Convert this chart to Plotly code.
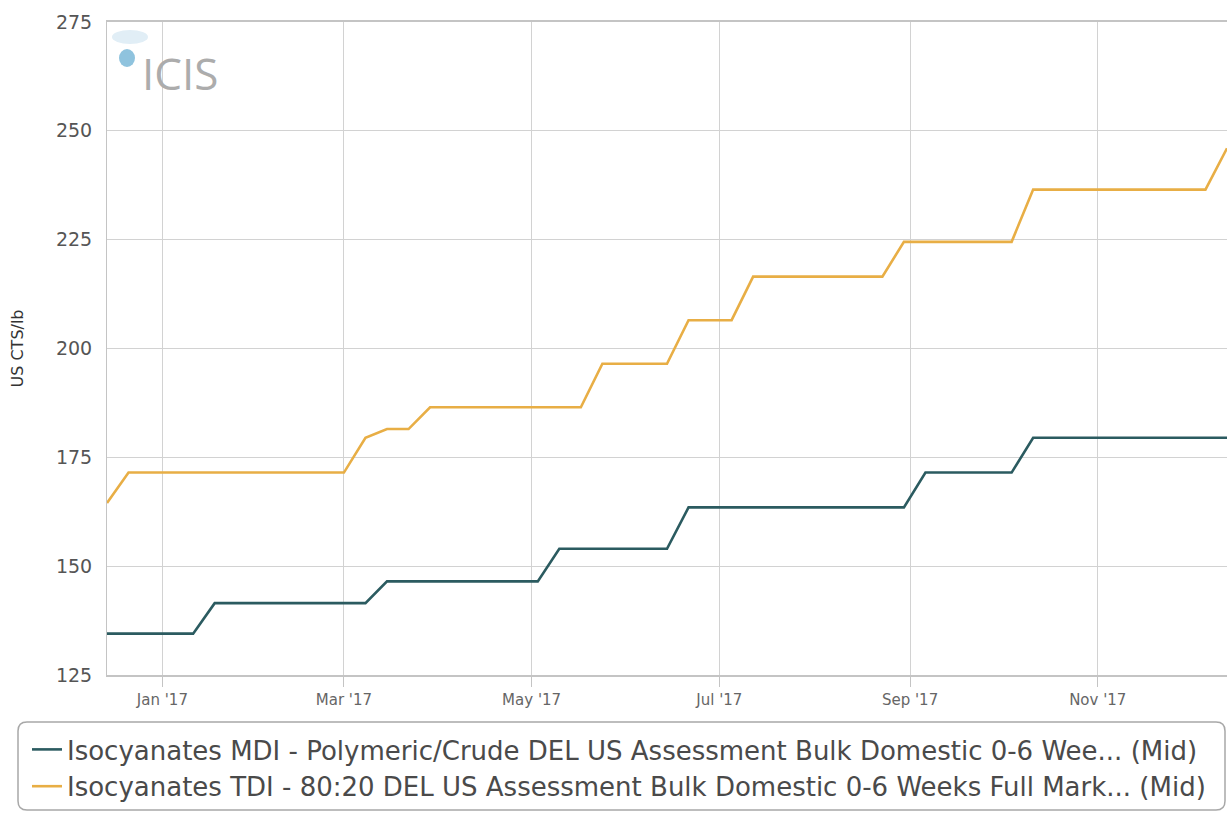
import plotly.graph_objects as go

# weekly assessment dates
dates = [
    "2016-12-14", "2016-12-21", "2016-12-28", "2017-01-04", "2017-01-11", "2017-01-18",
    "2017-01-25", "2017-02-01", "2017-02-08", "2017-02-15", "2017-02-22", "2017-03-01",
    "2017-03-08", "2017-03-15", "2017-03-22", "2017-03-29", "2017-04-05", "2017-04-12",
    "2017-04-19", "2017-04-26", "2017-05-03", "2017-05-10", "2017-05-17", "2017-05-24",
    "2017-05-31", "2017-06-07", "2017-06-14", "2017-06-21", "2017-06-28", "2017-07-05",
    "2017-07-12", "2017-07-19", "2017-07-26", "2017-08-02", "2017-08-09", "2017-08-16",
    "2017-08-23", "2017-08-30", "2017-09-06", "2017-09-13", "2017-09-20", "2017-09-27",
    "2017-10-04", "2017-10-11", "2017-10-18", "2017-10-25", "2017-11-01", "2017-11-08",
    "2017-11-15", "2017-11-22", "2017-11-29", "2017-12-06", "2017-12-13",
]

mdi = [
    134.5, 134.5, 134.5, 134.5, 134.5, 141.5, 141.5, 141.5, 141.5, 141.5, 141.5, 141.5,
    141.5, 146.5, 146.5, 146.5, 146.5, 146.5, 146.5, 146.5, 146.5, 154, 154, 154,
    154, 154, 154, 163.5, 163.5, 163.5, 163.5, 163.5, 163.5, 163.5, 163.5, 163.5,
    163.5, 163.5, 171.5, 171.5, 171.5, 171.5, 171.5, 179.5, 179.5, 179.5, 179.5, 179.5,
    179.5, 179.5, 179.5, 179.5, 179.5,
]

tdi = [
    164.5, 171.5, 171.5, 171.5, 171.5, 171.5, 171.5, 171.5, 171.5, 171.5, 171.5, 171.5,
    179.5, 181.5, 181.5, 186.5, 186.5, 186.5, 186.5, 186.5, 186.5, 186.5, 186.5, 196.5,
    196.5, 196.5, 196.5, 206.5, 206.5, 206.5, 216.5, 216.5, 216.5, 216.5, 216.5, 216.5,
    216.5, 224.5, 224.5, 224.5, 224.5, 224.5, 224.5, 236.5, 236.5, 236.5, 236.5, 236.5,
    236.5, 236.5, 236.5, 236.5, 246,
]

names = [
    "Isocyanates MDI - Polymeric/Crude DEL US Assessment Bulk Domestic 0-6 Wee... (Mid)",
    "Isocyanates TDI - 80:20 DEL US Assessment Bulk Domestic 0-6 Weeks Full Mark... (Mid)",
]
colors = ["#2b5b60", "#e8ae45"]

W, H = 1231, 814
L, R, T, B = 107, 4, 22, 139
pw, ph = W - L - R, H - T - B
FONT = "DejaVu Sans"


def px(x, y):
    # pixel position -> paper coords
    return (x - L) / pw, (H - B - y) / ph


def round_box(x0, y0, x1, y1, r):
    a0, b0 = px(x0, y0)
    a1, b1 = px(x1, y1)
    rx, ry = r / pw, r / ph
    return (f"M {a0+rx},{b0} L {a1-rx},{b0} Q {a1},{b0} {a1},{b0-ry} "
            f"L {a1},{b1+ry} Q {a1},{b1} {a1-rx},{b1} L {a0+rx},{b1} "
            f"Q {a0},{b1} {a0},{b1+ry} L {a0},{b0-ry} Q {a0},{b0} {a0+rx},{b0} Z")


fig = go.Figure()
for vals, name, col in zip([mdi, tdi], names, colors):
    fig.add_trace(go.Scatter(x=dates, y=vals, mode="lines", name=name, legendgroup=name,
                             line=dict(color=col, width=2.6)))

lx, ly = px(27, 726)
c1 = px(127, 58)
c2 = px(130, 37)
logo = px(180, 73)
fig.update_layout(
    width=W, height=H,
    margin=dict(l=L, r=R, t=T, b=B),
    paper_bgcolor="white", plot_bgcolor="white",
    font=dict(family=FONT, color="#555"),
    xaxis=dict(range=["2016-12-14", "2017-12-13"], tick0="2017-01-01", dtick="M2",
               tickformat="%b '%y", showgrid=True, gridcolor="#d2d2d2",
               showline=True, linecolor="#c4c4c4", linewidth=2, mirror=True,
               ticks="outside", ticklen=10, tickcolor="#c4c4c4",
               tickfont=dict(size=15, color="#666")),
    yaxis=dict(range=[125, 275], dtick=25, showgrid=True, gridcolor="#d2d2d2",
               showline=True, linecolor="#c4c4c4", zeroline=False,
               ticklabelstandoff=10, tickfont=dict(size=19, color="#555"),
               title=dict(text="US CTS/lb", font=dict(size=16, color="#333"), standoff=28)),
    showlegend=True,
    legend=dict(x=lx, y=ly, xanchor="left", yanchor="top", bgcolor="rgba(0,0,0,0)",
                font=dict(size=26, color="#4a4a4a"), traceorder="grouped",
                tracegroupgap=0, itemwidth=30),
    shapes=[
        dict(type="path", xref="paper", yref="paper", path=round_box(18, 722, 1225, 810, 9),
             line=dict(color="#a8a8a8", width=1.5), fillcolor="rgba(0,0,0,0)"),
        dict(type="circle", xref="paper", yref="paper", x0=c2[0] - 18 / pw, x1=c2[0] + 18 / pw,
             y0=c2[1] - 7 / ph, y1=c2[1] + 7 / ph, fillcolor="#e1eef6", line=dict(width=0)),
        dict(type="circle", xref="paper", yref="paper", x0=c1[0] - 8 / pw, x1=c1[0] + 8 / pw,
             y0=c1[1] - 9 / ph, y1=c1[1] + 9 / ph, fillcolor="#8fc3de", line=dict(width=0)),
    ],
    annotations=[dict(text="ICIS", xref="paper", yref="paper", x=logo[0], y=logo[1],
                      xanchor="center", yanchor="middle", showarrow=False,
                      font=dict(size=44, color="#acacac", family="Open Sans"))],
)

# page body has an 8px default margin; drop it so the figure sits at 0,0
fig.write_html("out.html", config={"displayModeBar": False},
               post_script="document.body.style.margin='0';")
